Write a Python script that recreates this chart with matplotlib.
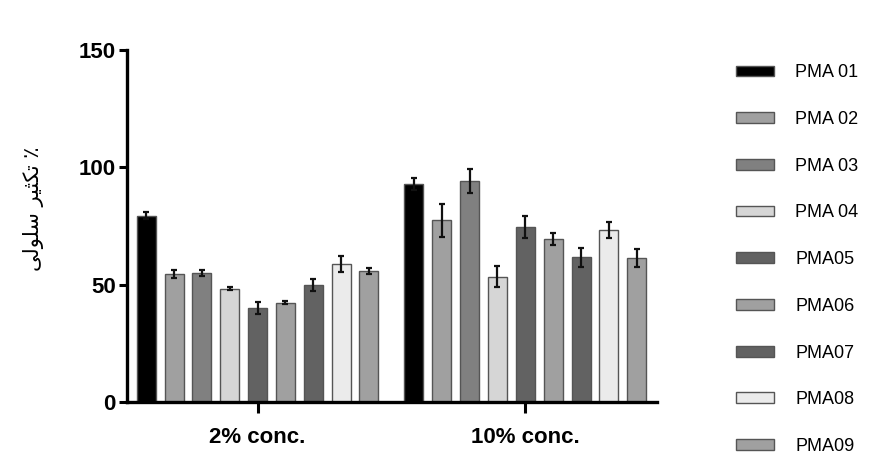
"""
Bar chart of cell proliferation for PMA samples at two concentrations
"""
import matplotlib
matplotlib.use('Agg')
import matplotlib.pyplot as plt
from matplotlib.patches import Patch
import numpy as np

groups = ['2% conc.', '10% conc.']
samples = ['PMA 01', 'PMA 02', 'PMA 03', 'PMA 04', 'PMA05',
           'PMA06', 'PMA07', 'PMA08', 'PMA09']

# mean values per sample: [2% conc., 10% conc.]
means = [
    [79.4, 93.0],
    [54.5, 77.4],
    [55.0, 94.2],
    [48.3, 53.4],
    [40.2, 74.4],
    [42.3, 69.6],
    [50.0, 61.6],
    [58.8, 73.4],
    [56.0, 61.4],
]
errors = [
    [1.5, 2.6],
    [1.7, 7.0],
    [1.3, 5.2],
    [0.7, 4.5],
    [2.5, 4.7],
    [0.7, 2.5],
    [2.5, 4.1],
    [3.6, 3.3],
    [1.3, 3.9],
]
fills = ['#000000', '#a0a0a0', '#808080', '#d6d6d6', '#626262',
         '#a0a0a0', '#626262', '#ebebeb', '#a0a0a0']

# "٪ تکثیر سلولی" in presentation forms, visual order
ylabel = '\uFBFD\uFEDF\uFEEE\uFEE0\uFEB3 \uFEAE\uFBFF\uFE9C\uFB91\uFE97 \u066A'


def main():
    plt.rcParams['font.family'] = ['Liberation Sans', 'DejaVu Sans']
    fig = plt.figure(figsize=(8.83, 4.72), dpi=100)
    ax = fig.add_axes([0.1438, 0.1483, 0.600, 0.7457])

    x = np.arange(len(groups))
    pitch = 0.104
    width = 0.071
    handles = []
    for i, name in enumerate(samples):
        pos = x + (i - 4) * pitch
        ax.bar(pos, means[i], width, color=fills[i], edgecolor='#555555',
               linewidth=1.0, zorder=2)
        ax.errorbar(pos, means[i], yerr=errors[i], fmt='none', ecolor='#111111',
                    elinewidth=1.6, capsize=2.5, capthick=1.6, zorder=3)
        handles.append(Patch(facecolor=fills[i], edgecolor='#555555',
                             linewidth=1.0, label=name))

    ax.set_xlim(-0.488, 1.491)
    ax.set_ylim(0, 150)
    ax.set_yticks([0, 50, 100, 150])
    ax.set_xticks(x)
    ax.set_xticklabels(groups)

    for spine in ['top', 'right']:
        ax.spines[spine].set_visible(False)
    for spine in ['bottom', 'left']:
        ax.spines[spine].set_linewidth(2.4)
        ax.spines[spine].set_color('black')

    ax.tick_params(axis='both', direction='out', width=2.2, labelsize=16)
    ax.tick_params(axis='y', length=6, pad=2)
    ax.tick_params(axis='x', length=8, pad=10)
    for lbl in ax.get_xticklabels() + ax.get_yticklabels():
        lbl.set_fontweight('bold')

    fig.text(0.038, 0.557, ylabel, rotation=90, ha='center', va='center',
             fontsize=15, family=['DejaVu Sans'])

    fig.legend(handles=handles, loc='upper left', bbox_to_anchor=(0.825, 0.879),
               frameon=False, fontsize=13, handlelength=2.1, handleheight=0.55,
               handletextpad=1.2, labelspacing=1.645, borderaxespad=0)

    plt.savefig('out.png', dpi=100, facecolor='white')
    plt.close()


if __name__ == '__main__':
    main()
